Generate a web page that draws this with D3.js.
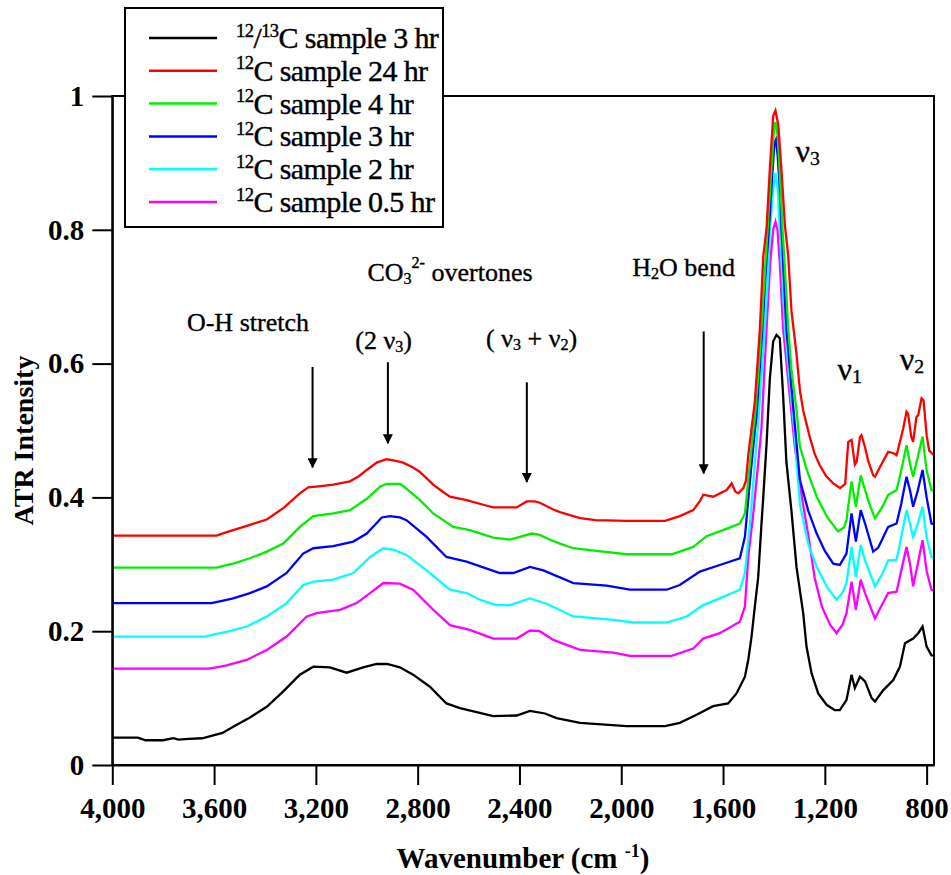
<!DOCTYPE html>
<html>
<head>
<meta charset="utf-8">
<script src="https://cdn.jsdelivr.net/npm/d3@7/dist/d3.min.js"></script>
<style>
  html, body { margin: 0; padding: 0; background: #fff; }
  svg { display: block; }
</style>
</head>
<body>
<div id="chart"></div>
<script>
// ATR spectra: [wavenumber (cm-1), intensity]
const c1213_3hr = [[4000,0.041],[3900,0.041],[3869,0.037],[3800,0.037],[3760,0.040],[3740,0.038],[3700,0.039],[3646,0.040],[3607,0.044],[3567,0.048],[3525,0.057],[3459,0.071],[3393,0.087],[3328,0.110],[3263,0.135],[3210,0.147],[3145,0.146],[3079,0.138],[3014,0.146],[2961,0.151],[2920,0.151],[2870,0.146],[2818,0.135],[2752,0.117],[2687,0.092],[2634,0.085],[2556,0.078],[2503,0.073],[2411,0.074],[2359,0.081],[2300,0.077],[2254,0.070],[2162,0.063],[1979,0.058],[1828,0.058],[1770,0.063],[1704,0.075],[1639,0.088],[1580,0.092],[1547,0.107],[1514,0.132],[1501,0.157],[1488,0.192],[1475,0.237],[1462,0.28],[1449,0.36],[1442,0.40],[1429,0.48],[1416,0.578],[1403,0.633],[1390,0.643],[1377,0.638],[1364,0.553],[1351,0.453],[1331,0.379],[1311,0.295],[1285,0.227],[1272,0.177],[1252,0.137],[1226,0.107],[1193,0.090],[1161,0.082],[1141,0.082],[1115,0.097],[1095,0.135],[1082,0.115],[1062,0.132],[1042,0.125],[1016,0.100],[1003,0.095],[970,0.112],[931,0.127],[905,0.147],[885,0.182],[853,0.189],[833,0.197],[816,0.207],[800,0.177],[781,0.164],[771,0.163]];

const c12_24hr = [[4000,0.343],[3590,0.343],[3560,0.347],[3525,0.351],[3459,0.359],[3393,0.367],[3328,0.384],[3263,0.406],[3230,0.415],[3180,0.417],[3132,0.419],[3066,0.424],[3030,0.432],[3000,0.441],[2961,0.452],[2922,0.457],[2890,0.455],[2857,0.452],[2820,0.445],[2791,0.438],[2739,0.419],[2700,0.408],[2673,0.401],[2608,0.396],[2542,0.389],[2503,0.385],[2411,0.385],[2372,0.394],[2340,0.394],[2320,0.392],[2267,0.382],[2241,0.378],[2162,0.369],[2100,0.366],[1979,0.365],[1828,0.365],[1770,0.372],[1717,0.381],[1690,0.395],[1678,0.404],[1639,0.401],[1586,0.411],[1566,0.421],[1552,0.409],[1540,0.406],[1520,0.414],[1510,0.425],[1501,0.462],[1488,0.503],[1475,0.543],[1455,0.653],[1442,0.76],[1429,0.802],[1416,0.892],[1403,0.97],[1394,0.978],[1383,0.957],[1370,0.887],[1357,0.807],[1344,0.762],[1331,0.678],[1311,0.613],[1298,0.56],[1285,0.53],[1259,0.49],[1240,0.465],[1220,0.448],[1195,0.432],[1167,0.421],[1140,0.414],[1120,0.42],[1108,0.483],[1095,0.486],[1082,0.449],[1075,0.453],[1062,0.49],[1056,0.493],[1042,0.475],[1030,0.455],[1010,0.433],[1003,0.431],[977,0.45],[951,0.468],[930,0.466],[918,0.463],[892,0.503],[879,0.528],[873,0.525],[860,0.49],[853,0.483],[840,0.52],[833,0.523],[820,0.548],[812,0.545],[800,0.493],[790,0.47],[771,0.463]];

const c12_4hr = [[4000,0.295],[3590,0.295],[3560,0.298],[3525,0.301],[3459,0.309],[3393,0.319],[3328,0.331],[3263,0.356],[3210,0.372],[3132,0.376],[3066,0.381],[3000,0.398],[2948,0.416],[2922,0.42],[2870,0.42],[2857,0.417],[2791,0.396],[2739,0.376],[2660,0.356],[2595,0.351],[2503,0.340],[2437,0.337],[2352,0.346],[2320,0.344],[2293,0.339],[2241,0.331],[2188,0.324],[2097,0.32],[1979,0.315],[1802,0.315],[1717,0.326],[1665,0.342],[1600,0.351],[1534,0.361],[1514,0.376],[1501,0.426],[1481,0.5],[1475,0.52],[1462,0.58],[1449,0.653],[1435,0.74],[1425,0.80],[1410,0.89],[1400,0.95],[1394,0.961],[1385,0.94],[1375,0.87],[1366,0.80],[1355,0.73],[1344,0.653],[1331,0.59],[1311,0.53],[1298,0.476],[1270,0.44],[1232,0.401],[1190,0.37],[1148,0.349],[1125,0.355],[1115,0.366],[1095,0.424],[1078,0.386],[1059,0.433],[1042,0.411],[1020,0.385],[1003,0.369],[975,0.385],[951,0.404],[918,0.411],[900,0.44],[879,0.478],[865,0.45],[853,0.431],[835,0.46],[816,0.491],[800,0.44],[781,0.411],[771,0.41]];

const c12_3hr = [[4000,0.242],[3610,0.242],[3560,0.246],[3525,0.249],[3459,0.257],[3393,0.267],[3315,0.287],[3250,0.316],[3210,0.324],[3132,0.327],[3053,0.334],[3000,0.346],[2941,0.370],[2909,0.372],[2870,0.37],[2844,0.366],[2765,0.341],[2687,0.311],[2608,0.304],[2477,0.287],[2424,0.287],[2359,0.296],[2306,0.291],[2188,0.272],[2057,0.268],[1966,0.262],[1822,0.262],[1770,0.269],[1691,0.289],[1613,0.299],[1534,0.309],[1514,0.341],[1494,0.426],[1475,0.5],[1469,0.52],[1445,0.653],[1432,0.74],[1420,0.80],[1407,0.88],[1398,0.93],[1392,0.935],[1385,0.91],[1375,0.85],[1370,0.80],[1351,0.653],[1330,0.56],[1311,0.48],[1298,0.426],[1265,0.38],[1232,0.346],[1200,0.32],[1167,0.301],[1141,0.299],[1115,0.316],[1095,0.376],[1078,0.334],[1059,0.381],[1042,0.361],[1010,0.319],[990,0.325],[951,0.356],[918,0.361],[900,0.39],[879,0.431],[865,0.41],[853,0.386],[835,0.41],[816,0.441],[800,0.40],[781,0.361],[771,0.36]];

const c12_2hr = [[4000,0.192],[3636,0.192],[3590,0.196],[3551,0.199],[3472,0.207],[3393,0.222],[3315,0.242],[3250,0.269],[3210,0.274],[3132,0.277],[3053,0.287],[2987,0.311],[2935,0.324],[2896,0.322],[2844,0.314],[2765,0.291],[2673,0.262],[2608,0.257],[2555,0.247],[2490,0.239],[2437,0.239],[2359,0.249],[2293,0.241],[2188,0.222],[2031,0.217],[1953,0.213],[1822,0.213],[1743,0.222],[1678,0.239],[1613,0.249],[1534,0.262],[1514,0.287],[1494,0.361],[1475,0.451],[1462,0.51],[1436,0.653],[1425,0.72],[1416,0.80],[1403,0.86],[1394,0.885],[1385,0.86],[1377,0.80],[1357,0.653],[1340,0.58],[1320,0.50],[1298,0.39],[1265,0.33],[1232,0.296],[1190,0.265],[1154,0.247],[1130,0.258],[1115,0.272],[1095,0.326],[1078,0.281],[1059,0.329],[1042,0.306],[1003,0.267],[975,0.285],[951,0.306],[918,0.307],[900,0.34],[879,0.381],[865,0.36],[853,0.341],[835,0.36],[816,0.386],[800,0.34],[781,0.311],[771,0.31]];

const c12_05hr = [[4000,0.144],[3623,0.144],[3590,0.146],[3551,0.149],[3472,0.157],[3393,0.172],[3315,0.192],[3236,0.222],[3197,0.227],[3105,0.232],[3040,0.242],[2987,0.257],[2935,0.272],[2870,0.271],[2818,0.262],[2739,0.232],[2673,0.209],[2595,0.202],[2503,0.189],[2411,0.189],[2359,0.201],[2320,0.2],[2267,0.187],[2162,0.172],[2031,0.168],[1966,0.163],[1802,0.163],[1717,0.174],[1678,0.189],[1613,0.197],[1534,0.214],[1514,0.237],[1501,0.311],[1481,0.376],[1462,0.451],[1449,0.503],[1429,0.653],[1415,0.75],[1403,0.80],[1394,0.812],[1386,0.80],[1377,0.75],[1364,0.653],[1340,0.56],[1318,0.476],[1290,0.40],[1264,0.341],[1240,0.28],[1212,0.237],[1180,0.21],[1154,0.197],[1130,0.21],[1115,0.227],[1095,0.274],[1078,0.232],[1059,0.277],[1042,0.257],[1003,0.219],[975,0.24],[951,0.257],[918,0.259],[900,0.29],[879,0.326],[865,0.3],[853,0.267],[835,0.3],[816,0.336],[800,0.29],[781,0.262],[771,0.26]];

// Legend labels (superscript parts marked with "^")
const seriesLabels = [
  [["12","^"],["/",""],["13","^"],["C sample 3 hr",""]],
  [["12","^"],["C sample 24 hr",""]],
  [["12","^"],["C sample 4 hr",""]],
  [["12","^"],["C sample 3 hr",""]],
  [["12","^"],["C sample 2 hr",""]],
  [["12","^"],["C sample 0.5 hr",""]]
];
const seriesColors = ["#000000","#ff0000","#00ee00","#0000ff","#00ffff","#ff00ff"];
const seriesData = [c1213_3hr, c12_24hr, c12_4hr, c12_3hr, c12_2hr, c12_05hr];

const xTicks = [4000,3600,3200,2800,2400,2000,1600,1200,800];
const yTicks = [0,0.2,0.4,0.6,0.8,1];

// Band annotations: text parts ("_" = subscript, "^" = superscript), position in data units
const bandLabels = [
  {parts:[["O-H stretch",""]], wn:3467, v:0.662, size:26},
  {parts:[["CO",""],["3","_"],["2-","^"],[" overtones",""]], wn:2673, v:0.737, size:26},
  {parts:[["(2 ν",""],["3","_"],[")",""]], wn:2934, v:0.635, size:26},
  {parts:[["( ν",""],["3","_"],[" + ν",""],["2","_"],[")",""]], wn:2352, v:0.638, size:26},
  {parts:[["H",""],["2","_"],["O bend",""]], wn:1755, v:0.744, size:26},
  {parts:[["ν",""],["3","_"]], wn:1267, v:0.918, size:32},
  {parts:[["ν",""],["1","_"]], wn:1102, v:0.592, size:32},
  {parts:[["ν",""],["2","_"]], wn:858, v:0.607, size:32}
];
// Arrows: wavenumber, start intensity, tip intensity
const bandArrows = [
  {wn:3213, from:0.595, to:0.445},
  {wn:2917, from:0.602, to:0.481},
  {wn:2371, from:0.572, to:0.423},
  {wn:1676, from:0.648, to:0.436}
];

const W = 951, H = 875;
const plot = {left:112.3, right:934, top:96, bottom:765};
const FONT = "'Liberation Serif','Times New Roman',Times,serif";

const svg = d3.select("#chart").append("svg")
  .attr("width", W).attr("height", H)
  .style("background", "#fff");

const x = d3.scaleLinear().domain([4000, 771]).range([plot.left, plot.right]);
const y = d3.scaleLinear().domain([0, 1]).range([plot.bottom, plot.top]);

function rich(textSel, parts, size) {
  let shift = 0;
  parts.forEach(([t, k]) => {
    const target = k === "^" ? -0.38 * size : k === "_" ? 0.22 * size : 0;
    textSel.append("tspan")
      .attr("dy", target - shift)
      .attr("font-size", k ? size * 0.62 : size)
      .text(t);
    shift = target;
  });
}

// Spectra
const line = d3.line().x(d => x(d[0])).y(d => y(d[1])).curve(d3.curveLinear);
const order = [5, 4, 3, 2, 1, 0];
svg.append("g").selectAll("path")
  .data(order)
  .join("path")
  .attr("d", i => line(seriesData[i]))
  .attr("fill", "none")
  .attr("stroke", i => seriesColors[i])
  .attr("stroke-width", 2.3)
  .attr("stroke-linejoin", "miter");

// Frame
svg.append("rect")
  .attr("x", plot.left).attr("y", plot.top)
  .attr("width", plot.right - plot.left).attr("height", plot.bottom - plot.top)
  .attr("fill", "none").attr("stroke", "#000").attr("stroke-width", 2);

// Axes
const yAxis = d3.axisLeft(y).tickValues(yTicks).tickSize(20).tickSizeOuter(0).tickPadding(8)
  .tickFormat(d => d === 0 ? "0" : d === 1 ? "1" : d3.format(".1f")(d));
const gy = svg.append("g").attr("transform", `translate(${plot.left},0)`).call(yAxis);
const xAxis = d3.axisBottom(x).tickValues(xTicks).tickSize(20).tickSizeOuter(0).tickPadding(12)
  .tickFormat(d3.format(","));
const gx = svg.append("g").attr("transform", `translate(0,${plot.bottom})`).call(xAxis);

[gx, gy].forEach(g => {
  g.select(".domain").attr("stroke", "#000").attr("stroke-width", 2);
  g.selectAll(".tick line").attr("stroke", "#000").attr("stroke-width", 2);
  g.selectAll(".tick text")
    .attr("fill", "#000")
    .style("font-family", FONT)
    .style("font-weight", "bold")
    .style("font-size", "29px");
});

// Axis titles
svg.append("text")
  .attr("transform", `translate(33,${(plot.top + plot.bottom) / 2 + 10}) rotate(-90)`)
  .attr("text-anchor", "middle")
  .style("font-family", FONT).style("font-weight", "bold").style("font-size", "28px")
  .text("ATR Intensity");

const xt = svg.append("text")
  .attr("x", 523).attr("y", 868)
  .attr("text-anchor", "middle")
  .style("font-family", FONT).style("font-weight", "bold");
rich(xt, [["Wavenumber (cm ",""],["-1","^"],[")",""]], 29);

// Band labels
bandLabels.forEach(b => {
  const t = svg.append("text")
    .attr("x", x(b.wn)).attr("y", y(b.v))
    .attr("text-anchor", "middle")
    .attr("dominant-baseline", "central")
    .style("font-family", FONT)
    .attr("fill", "#000")
    .attr("stroke", "#000").attr("stroke-width", 0.35);
  rich(t, b.parts, b.size);
});

// Arrows
svg.append("defs").append("marker")
  .attr("id", "head").attr("viewBox", "0 0 10 10")
  .attr("refX", 9).attr("refY", 5)
  .attr("markerWidth", 5).attr("markerHeight", 5)
  .attr("markerUnits", "strokeWidth")
  .attr("orient", "auto")
  .append("path").attr("d", "M0,0 L10,5 L0,10 Z").attr("fill", "#000");

svg.append("g").selectAll("line")
  .data(bandArrows)
  .join("line")
  .attr("x1", d => x(d.wn)).attr("x2", d => x(d.wn))
  .attr("y1", d => y(d.from)).attr("y2", d => y(d.to))
  .attr("stroke", "#000").attr("stroke-width", 2)
  .attr("marker-end", "url(#head)");

// Legend
const legend = svg.append("g");
legend.append("rect")
  .attr("x", 125).attr("y", 8).attr("width", 318).attr("height", 219)
  .attr("fill", "#fff").attr("stroke", "#000").attr("stroke-width", 2);
seriesLabels.forEach((parts, i) => {
  const ry = 38 + i * 32.8;
  legend.append("line")
    .attr("x1", 149).attr("x2", 217).attr("y1", ry).attr("y2", ry)
    .attr("stroke", seriesColors[i]).attr("stroke-width", 2.5);
  const t = legend.append("text")
    .attr("x", 236).attr("y", ry + 10)
    .style("font-family", FONT)
    .style("letter-spacing", "-0.6px")
    .attr("fill", "#000")
    .attr("stroke", "#000").attr("stroke-width", 0.4);
  rich(t, parts, 30);
});
</script>
</body>
</html>
